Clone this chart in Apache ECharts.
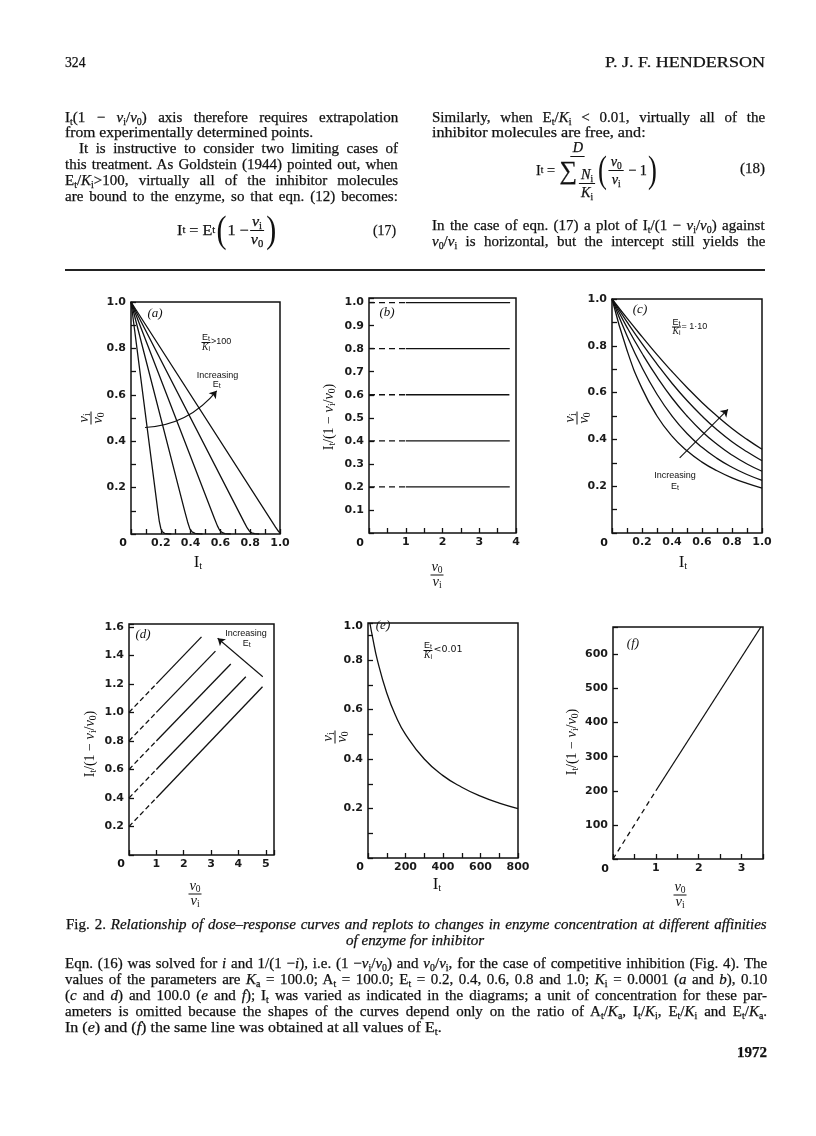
<!DOCTYPE html>
<html><head><meta charset="utf-8">
<script src="https://cdn.jsdelivr.net/npm/echarts/dist/echarts.min.js"></script>
<style>
html,body{margin:0;padding:0;background:#fff;}
#page{position:relative;width:816px;height:1136px;overflow:hidden;font-family:'Liberation Serif','DejaVu Serif',serif;color:#111;}
#chart{position:absolute;left:0;top:0;width:816px;height:1136px;}
.ln{position:absolute;white-space:nowrap;font-size:15px;line-height:16px;height:16px;transform-origin:0 50%;-webkit-text-stroke:0.25px #111;}
.ln sub,.eq sub{font-size:0.66em;vertical-align:-0.28em;line-height:0;}
.eq{position:absolute;display:flex;align-items:center;white-space:nowrap;font-size:15px;transform-origin:0 50%;-webkit-text-stroke:0.25px #111;}
.frac{display:inline-flex;flex-direction:column;align-items:center;line-height:15px;margin:0 1px;}
.frac>span:first-child{border-bottom:1px solid #111;padding:0 2px 1px;}
.frac>span:last-child{padding-top:1px;}
.bp{display:inline-block;font-size:28px;line-height:28px;transform:scaleY(1.35);font-weight:300;margin:0 1px;-webkit-text-stroke:0;}
.sig{font-size:26px;line-height:26px;margin-right:1px;}
.rule{position:absolute;left:65px;top:269px;width:700px;height:2px;background:#222;}
</style></head>
<body><div id="page">
<div id="chart"></div>

<div class="ln" style="left:65px;top:54px" data-w="21">324</div>
<div class="ln" style="left:605px;top:54px" data-w="160">P. J. F. HENDERSON</div>

<div class="ln j" style="left:65px;top:108.7px" data-w="333">I<sub>t</sub>(1 − <i>v</i><sub>i</sub>/<i>v</i><sub>0</sub>) axis therefore requires extrapolation</div>
<div class="ln" style="left:65px;top:124.3px" data-w="248">from experimentally determined points.</div>
<div class="ln j" style="left:79px;top:139.7px" data-w="319">It is instructive to consider two limiting cases of</div>
<div class="ln j" style="left:65px;top:156px" data-w="333">this treatment. As Goldstein (1944) pointed out, when</div>
<div class="ln j" style="left:65px;top:172px" data-w="333">E<sub>t</sub>/<i>K</i><sub>i</sub>&gt;100, virtually all of the inhibitor molecules</div>
<div class="ln j" style="left:65px;top:188px" data-w="333">are bound to the enzyme, so that eqn. (12) becomes:</div>
<div class="eq" style="left:177px;top:212px;height:36px" data-w="100">I<sub>t</sub>&nbsp;=&nbsp;E<sub>t</sub><span class="bp">(</span>1 −<span class="frac"><span><i>v</i><sub>i</sub></span><span><i>v</i><sub>0</sub></span></span><span class="bp">)</span></div>
<div class="ln" style="left:373px;top:222px" data-w="23">(17)</div>

<div class="ln j" style="left:432px;top:108.7px" data-w="333">Similarly, when E<sub>t</sub>/<i>K</i><sub>i</sub> &lt; 0.01, virtually all of the</div>
<div class="ln" style="left:432px;top:124.3px" data-w="214">inhibitor molecules are free, and:</div>
<div class="eq" style="left:536px;top:144px;height:52px" data-w="122">I<sub>t</sub>&nbsp;=&nbsp;<span class="frac"><span><i>D</i></span><span><span class="sig">∑</span><span class="frac"><span><i>N</i><sub>i</sub></span><span><i>K</i><sub>i</sub></span></span></span></span><span class="bp">(</span><span class="frac"><span><i>v</i><sub>0</sub></span><span><i>v</i><sub>i</sub></span></span>&nbsp;− 1<span class="bp">)</span></div>
<div class="ln" style="left:740px;top:160px" data-w="25">(18)</div>
<div class="ln j" style="left:432px;top:217px" data-w="333">In the case of eqn. (17) a plot of I<sub>t</sub>/(1 − <i>v</i><sub>i</sub>/<i>v</i><sub>0</sub>) against</div>
<div class="ln j" style="left:432px;top:233px" data-w="333"><i>v</i><sub>0</sub>/<i>v</i><sub>i</sub> is horizontal, but the intercept still yields the</div>
<div class="rule"></div>

<div class="ln j" style="left:66px;top:916px" data-w="701">Fig. 2. <i>Relationship of dose–response curves and replots to changes in enzyme concentration at different affinities</i></div>
<div class="ln" style="left:346px;top:932px" data-w="138"><i>of enzyme for inhibitor</i></div>
<div class="ln j" style="left:65px;top:955.3px" data-w="702">Eqn. (16) was solved for <i>i</i> and 1/(1 −<i>i</i>), i.e. (1 −<i>v</i><sub>i</sub>/<i>v</i><sub>0</sub>) and <i>v</i><sub>0</sub>/<i>v</i><sub>i</sub>, for the case of competitive inhibition (Fig. 4). The</div>
<div class="ln j" style="left:65px;top:971px" data-w="702">values of the parameters are <i>K</i><sub>a</sub> = 100.0; A<sub>t</sub> = 100.0; E<sub>t</sub> = 0.2, 0.4, 0.6, 0.8 and 1.0; <i>K</i><sub>i</sub> = 0.0001 (<i>a</i> and <i>b</i>), 0.10</div>
<div class="ln j" style="left:65px;top:987px" data-w="702">(<i>c</i> and <i>d</i>) and 100.0 (<i>e</i> and <i>f</i>); I<sub>t</sub> was varied as indicated in the diagrams; a unit of concentration for these par-</div>
<div class="ln j" style="left:65px;top:1002.7px" data-w="702">ameters is omitted because the shapes of the curves depend only on the ratio of A<sub>t</sub>/<i>K</i><sub>a</sub>, I<sub>t</sub>/<i>K</i><sub>i</sub>, E<sub>t</sub>/<i>K</i><sub>i</sub> and E<sub>t</sub>/<i>K</i><sub>a</sub>.</div>
<div class="ln" style="left:65px;top:1018.7px" data-w="377">In (<i>e</i>) and (<i>f</i>) the same line was obtained at all values of E<sub>t</sub>.</div>
<div class="ln" style="left:737px;top:1044px;font-weight:bold" data-w="30">1972</div>
</div>

<script>
// ---------------- DATA ----------------
// Panel (a): vi/v0 against It, Ki = 0.0001, Et = 0.2 ... 1.0
const panelA_Et02 = [[0,1],[0.17,0.15],[0.18,0.1],[0.19,0.054],[0.2,0.024],[0.21,0.01],[0.225,0.003],[0.25,0.0005],[0.27,0]];
const panelA_Et04 = [[0,1],[0.36,0.1],[0.38,0.052],[0.395,0.022],[0.41,0.009],[0.43,0.003],[0.46,0.0005],[0.48,0]];
const panelA_Et06 = [[0,1],[0.56,0.067],[0.58,0.035],[0.595,0.016],[0.61,0.007],[0.63,0.002],[0.67,0]];
const panelA_Et08 = [[0,1],[0.76,0.05],[0.78,0.026],[0.795,0.012],[0.81,0.005],[0.83,0.0015],[0.86,0]];
const panelA_Et10 = [[0,1],[0.97,0.03],[0.99,0.011],[1.0,0.005]];
const panelA_arrow = [[0.094,0.459],[0.575,0.617]];

// Panel (b): It/(1-vi/v0) against v0/vi (horizontal lines)
const panelB_levels = [0.2, 0.4, 0.6, 0.8, 1.0];
const panelB_dashEnd = 1;
const panelB_end = [3.83, 3.83, 3.82, 3.83, 3.84];

// Panel (c): vi/v0 against It, Ki = 0.10
const panelC_It   = [0, 0.1, 0.2, 0.3, 0.4, 0.5, 0.6, 0.7, 0.8, 0.9, 1.0];
const panelC_Et02 = [1, 0.781, 0.618, 0.5, 0.414, 0.351, 0.303, 0.266, 0.236, 0.212, 0.192];
const panelC_Et04 = [1, 0.843, 0.707, 0.593, 0.5, 0.425, 0.366, 0.319, 0.281, 0.25, 0.225];
const panelC_Et06 = [1, 0.879, 0.768, 0.667, 0.577, 0.5, 0.434, 0.379, 0.333, 0.295, 0.264];
const panelC_Et08 = [1, 0.902, 0.809, 0.722, 0.64, 0.566, 0.5, 0.441, 0.39, 0.347, 0.309];
const panelC_Et10 = [1, 0.918, 0.839, 0.762, 0.69, 0.622, 0.558, 0.5, 0.447, 0.4, 0.358];
const panelC_arrow = [[0.451,0.321],[0.773,0.528]];

// Panel (d): It/(1-vi/v0) against v0/vi, Ki = 0.10
const panelD_intercept = [0.2, 0.4, 0.6, 0.8, 1.0];
const panelD_atOne = [0.4, 0.6, 0.8, 1.0, 1.2];
const panelD_endX = [4.88, 4.27, 3.72, 3.16, 2.65];
const panelD_endY = [1.18, 1.25, 1.34, 1.43, 1.53];
const panelD_arrow = [[4.89,1.25],[3.24,1.52]];

// Panel (e): vi/v0 against It, Ki = 100
const panelE_It = [10, 25, 50, 100, 150, 200, 300, 400, 500, 600, 700, 800];
const panelE_v  = [0.95, 0.89, 0.8, 0.667, 0.571, 0.5, 0.4, 0.333, 0.286, 0.25, 0.222, 0.2];

// Panel (f): It/(1-vi/v0) against v0/vi
const panelF_dash  = [[0,0],[1,200]];
const panelF_solid = [[1,200],[3.45,680]];

// ---------------- text fitting ----------------
document.querySelectorAll('[data-w]').forEach(el => {
  const w = parseFloat(el.dataset.w);
  const nat = el.scrollWidth;
  if (el.classList.contains('j')) {
    const spaces = (el.textContent.match(/ /g) || []).length;
    const ws = spaces ? (w - nat) / spaces : 0;
    el.style.wordSpacing = ws + 'px';
    const nat2 = el.scrollWidth;
    el.style.transform = 'scaleX(' + (w / nat2) + ')';
  } else {
    el.style.transform = 'scaleX(' + (w / nat) + ')';
  }
});

// ---------------- chart ----------------
const INK = '#111111';
const F_SERIF = "'Liberation Serif','DejaVu Serif',serif";
const F_SANS = "'DejaVu Sans','Liberation Sans',sans-serif";
const F_NARROW = "'Liberation Sans Narrow','Liberation Sans',sans-serif";

const GRIDS = [
  {left:131, top:302, width:149, height:232},
  {left:369, top:298, width:147, height:235},
  {left:612, top:299, width:150, height:234},
  {left:129, top:624, width:145, height:231},
  {left:368, top:623, width:150, height:235},
  {left:613, top:627, width:150, height:232}
];

const near = (a,b) => Math.abs(a-b) < 1e-6;
const fmtEven10 = v => { const r = Math.round(v*10); return (r>0 && near(v*10,r) && r%2===0) ? (r/10).toFixed(1) : ''; };
const fmtTenth = v => { const r = Math.round(v*10); return (r>0 && r<=10 && near(v*10,r)) ? (r/10).toFixed(1) : ''; };
const fmtInt = v => (v>0 && near(v,Math.round(v))) ? String(Math.round(v)) : '';
const fmtE_x = v => { const r = Math.round(v); return (r>0 && near(v,r) && r%200===0) ? String(r) : ''; };
const fmtF_y = v => { const r = Math.round(v); return (r>0 && r<=600 && near(v,r) && r%100===0) ? String(r) : ''; };

const AX = [
  {x:{max:1, interval:0.1, fmt:fmtEven10}, y:{max:1, interval:0.1, fmt:fmtEven10}},
  {x:{max:4, interval:0.5, fmt:fmtInt},    y:{max:1.02, interval:0.1, fmt:fmtTenth}},
  {x:{max:1, interval:0.1, fmt:fmtEven10}, y:{max:1, interval:0.1, fmt:fmtEven10}},
  {x:{max:5.3, interval:1, fmt:fmtInt},    y:{max:1.62, interval:0.2, fmt:fmtEven10}},
  {x:{max:800, interval:100, fmt:fmtE_x},  y:{max:0.95, interval:0.1, fmt:fmtEven10}},
  {x:{max:3.5, interval:0.5, fmt:fmtInt},  y:{max:680, interval:100, fmt:fmtF_y}}
];

const LBL = {fontFamily:F_SANS, fontSize:11, fontWeight:'bold', color:'#1a1a1a'};

function axis(gi, c, isX) {
  return {
    type:'value', gridIndex:gi, min:0, max:c.max, interval:c.interval,
    axisLine:{show:false}, splitLine:{show:false},
    axisTick:{show:true, inside:true, length:5, lineStyle:{color:INK, width:1.3}},
    axisLabel:Object.assign({show:true, margin: isX ? 4 : 5,
      formatter:c.fmt, showMinLabel:true, showMaxLabel:true, hideOverlap:false}, LBL)
  };
}

function line(gi, data, dash, smooth) {
  return {type:'line', xAxisIndex:gi, yAxisIndex:gi, data, symbol:'none', showSymbol:false,
    smooth: !!smooth, silent:true, animation:false, z:3,
    lineStyle:{color:INK, width:1.3, type: dash || 'solid'}};
}
function arrow(gi, coords, curv) {
  return {type:'lines', coordinateSystem:'cartesian2d', xAxisIndex:gi, yAxisIndex:gi, silent:true,
    symbol:['none','arrow'], symbolSize:[0,7], animation:false, z:4,
    lineStyle:{color:INK, width:1.1, curveness:curv||0, opacity:1},
    data:[{coords}]};
}

const series = [];
[panelA_Et02, panelA_Et04, panelA_Et06, panelA_Et08, panelA_Et10].forEach(d => series.push(line(0, d)));
series.push(arrow(0, panelA_arrow, -0.22));

panelB_levels.forEach((lvl, i) => {
  series.push(line(1, [[0,lvl],[panelB_dashEnd,lvl]], [6,4]));
  series.push(line(1, [[panelB_dashEnd,lvl],[panelB_end[i],lvl]]));
});

[panelC_Et02, panelC_Et04, panelC_Et06, panelC_Et08, panelC_Et10].forEach(vals =>
  series.push(line(2, panelC_It.map((x,k) => [x, vals[k]]), null, true)));
series.push(arrow(2, panelC_arrow, 0));

panelD_intercept.forEach((b, i) => {
  series.push(line(3, [[0,b],[1,panelD_atOne[i]]], [5,3]));
  series.push(line(3, [[1,panelD_atOne[i]],[panelD_endX[i],panelD_endY[i]]]));
});
series.push(arrow(3, panelD_arrow, 0));

series.push(line(4, panelE_It.map((x,k) => [x, panelE_v[k]]), null, true));

series.push(line(5, panelF_dash, [5,4]));
series.push(line(5, panelF_solid));

// ---------------- texts in the figure ----------------
const RICH = {
  n:{fontFamily:F_SERIF, fontSize:14, lineHeight:16, fill:INK},
  v:{fontFamily:F_SERIF, fontSize:14.5, lineHeight:16, fontStyle:'italic', fill:INK},
  s:{fontFamily:F_SERIF, fontSize:9.5, lineHeight:6, verticalAlign:'bottom', fill:INK},
  B:{fontFamily:F_SERIF, fontSize:17, lineHeight:18, fill:INK},
  Bs:{fontFamily:F_SERIF, fontSize:10.5, lineHeight:7, verticalAlign:'bottom', fill:INK},
  a:{fontFamily:F_NARROW, fontSize:9, lineHeight:10, fill:INK},
  as:{fontFamily:F_NARROW, fontSize:7, lineHeight:4, verticalAlign:'bottom', fill:INK},
  ai:{fontFamily:F_SERIF, fontSize:9.5, lineHeight:10, fontStyle:'italic', fill:INK},
  q:{fontFamily:F_SANS, fontSize:9.5, lineHeight:11, fill:INK}
};
function T(x, y, text, o) {
  o = o || {};
  const al = o.align || 'center';
  return {type:'text', x, y, rotation:o.rot||0, silent:true, z:100,
    style:{text, rich:RICH, fill:INK, fontFamily:o.fontFamily||F_SERIF, fontSize:o.fontSize||14,
      fontStyle:o.fontStyle||'normal', fontWeight:o.fontWeight||'normal',
      align:al, verticalAlign:'middle', textAlign:al, textVerticalAlign:'middle'}};
}
function Frac(cx, cy, num, den, w, gap, rot) {
  const ts = t => ({text:t, rich:RICH, fill:INK, align:'center', verticalAlign:'middle', textAlign:'center', textVerticalAlign:'middle'});
  return {type:'group', x:cx, y:cy, rotation:rot||0, silent:true, z:100, children:[
    {type:'text', x:0, y:-gap, style:ts(num), z:100},
    {type:'line', shape:{x1:-w/2, y1:0, x2:w/2, y2:0}, style:{stroke:INK, lineWidth:1}, z:100},
    {type:'text', x:0, y:gap, style:ts(den), z:100}
  ]};
}
const IT = '{B|I}{Bs|t}';
const VI = '{v|v}{s|i}', V0 = '{v|v}{s|0}';
const YNAME = '{n|I}{s|t}{n|/(1 − }' + VI + '{n|/}' + V0 + '{n|)}';
const ET = '{a|E}{as|t}', KI = '{ai|K}{as|i}';
const R90 = Math.PI / 2;

const G = [];
[[123,543],[360,543],[604,543],[121,864],[360,867],[605,869]].forEach(p =>
  G.push(T(p[0], p[1], '0', {fontFamily:F_SANS, fontSize:11, fontWeight:'bold'})));
G.push(T(363, 626, '1.0', {fontFamily:F_SANS, fontSize:11, fontWeight:'bold', align:'right'}));
[['(a)',155,314],['(b)',387,313],['(c)',640,310],['(d)',143,635],['(e)',383,626],['(f)',633,644]].forEach(p =>
  G.push(T(p[1], p[2], p[0], {fontStyle:'italic', fontSize:13})));
// x-axis names
G.push(T(198, 563, IT)); G.push(T(683, 563, IT)); G.push(T(437, 885, IT));
G.push(Frac(437, 575, V0, VI, 13, 7.5));
G.push(Frac(195, 894, V0, VI, 13, 7.5));
G.push(Frac(680, 895, V0, VI, 13, 7.5));
// y-axis names
G.push(Frac(91, 418, VI, V0, 13, 7, R90));
G.push(Frac(577, 418, VI, V0, 13, 7, R90));
G.push(Frac(335, 737, VI, V0, 13, 7, R90));
G.push(T(329, 417, YNAME, {rot:R90}));
G.push(T(90, 744, YNAME, {rot:R90}));
G.push(T(572, 742, YNAME, {rot:R90}));
// annotations
G.push(Frac(206, 342.5, ET, KI, 9, 4.6));
G.push(T(211, 342, '{a|>100}', {align:'left'}));
G.push(T(217.5, 375.3, '{a|Increasing}'));
G.push(T(216.7, 384.5, ET));
G.push(Frac(676.5, 327, ET, KI, 9, 4.8));
G.push(T(681.5, 327, '{a|= 1·10}', {align:'left'}));
G.push(T(675, 475.7, '{a|Increasing}'));
G.push(T(675, 486.5, ET));
G.push(T(246, 633.3, '{a|Increasing}'));
G.push(T(246.7, 644, ET));
G.push(Frac(428, 650.5, ET, KI, 9, 4.8));
G.push(T(433.5, 649.5, '{q|<0.01}', {align:'left'}));

const chart = echarts.init(document.getElementById('chart'), null, {renderer:'canvas'});
chart.setOption({
  animation:false,
  backgroundColor:'transparent',
  grid: GRIDS.map(g => Object.assign({show:true, borderColor:INK, borderWidth:1.5, backgroundColor:'transparent', containLabel:false}, g)),
  xAxis: AX.map((a,i) => axis(i, a.x, true)),
  yAxis: AX.map((a,i) => axis(i, a.y, false)),
  series,
  graphic: G
});
</script>
</body></html>
